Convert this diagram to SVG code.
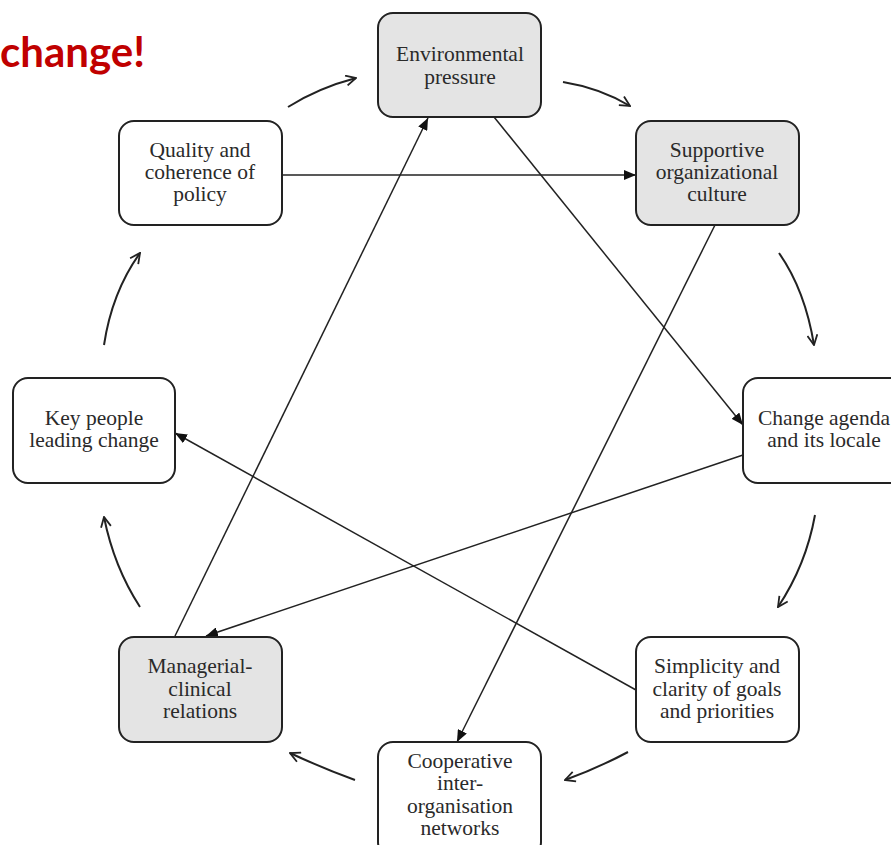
<svg xmlns="http://www.w3.org/2000/svg" width="891" height="845" viewBox="0 0 891 845">
<defs>
<marker id="open" viewBox="0 0 12 12" refX="11" refY="6" markerWidth="12" markerHeight="12" markerUnits="userSpaceOnUse" orient="auto">
<path d="M1,1 L11,6 L1,11" fill="none" stroke="#222" stroke-width="1.8"/>
</marker>
<marker id="solid" viewBox="0 0 12 10" refX="12" refY="5" markerWidth="12" markerHeight="10" markerUnits="userSpaceOnUse" orient="auto">
<path d="M0,0 L12,5 L0,10 Z" fill="#111"/>
</marker>
<style>
.box{stroke:#222;stroke-width:2;}
.w{fill:#fff;}
.g{fill:#e4e4e4;}
.t{font-family:"Liberation Serif","Times New Roman",serif;font-size:21.5px;fill:#2a2a2a;text-anchor:middle;}
.c{fill:none;stroke:#222;stroke-width:2;marker-end:url(#open);}
.s{fill:none;stroke:#222;stroke-width:1.5;marker-end:url(#solid);}
</style>
</defs>
<rect width="891" height="845" fill="#fff"/>
<text x="145" y="67" font-family="Lato, 'Open Sans', sans-serif" font-weight="bold" font-size="42" fill="#c00000" text-anchor="end">change!</text>

<g id="connectors">
<path class="c" d="M288,107 Q318,88 356,78"/>
<path class="c" d="M563,82 Q600,88 630,106"/>
<path class="c" d="M779,253 Q805,290 814,345"/>
<path class="c" d="M815,515 Q806,565 778,607"/>
<path class="c" d="M628,752 Q598,768 565,780"/>
<path class="c" d="M355,780 Q322,768 290,753"/>
<path class="c" d="M140,607 Q114,567 104,517"/>
<path class="c" d="M104,345 Q112,292 140,253"/>
<line class="s" x1="282" y1="175" x2="636" y2="175"/>
<line class="s" x1="175" y1="636" x2="428" y2="118"/>
<line class="s" x1="494" y1="117" x2="743" y2="425"/>
<line class="s" x1="715" y1="225" x2="457" y2="742"/>
<line class="s" x1="743" y1="455" x2="206" y2="636"/>
<line class="s" x1="636" y1="690" x2="175" y2="433"/>
</g>

<g id="environmental">
<rect class="box g" x="378" y="13" width="163" height="104" rx="15"/>
<text class="t" x="460" y="61">Environmental</text>
<text class="t" x="460" y="84">pressure</text>
</g>
<g id="supportive">
<rect class="box g" x="636" y="121" width="163" height="104" rx="15"/>
<text class="t" x="717" y="157">Supportive</text>
<text class="t" x="717" y="179">organizational</text>
<text class="t" x="717" y="201">culture</text>
</g>
<g id="quality">
<rect class="box w" x="119" y="121" width="163" height="104" rx="15"/>
<text class="t" x="200" y="157">Quality and</text>
<text class="t" x="200" y="179">coherence of</text>
<text class="t" x="200" y="201">policy</text>
</g>
<g id="keypeople">
<rect class="box w" x="13" y="378" width="162" height="105" rx="15"/>
<text class="t" x="94" y="425">Key people</text>
<text class="t" x="94" y="447">leading change</text>
</g>
<g id="agenda">
<rect class="box w" x="743" y="378" width="163" height="105" rx="15"/>
<text class="t" x="824" y="425">Change agenda</text>
<text class="t" x="824" y="447">and its locale</text>
</g>
<g id="managerial">
<rect class="box g" x="119" y="637" width="163" height="105" rx="15"/>
<text class="t" x="200" y="673">Managerial-</text>
<text class="t" x="200" y="696">clinical</text>
<text class="t" x="200" y="718">relations</text>
</g>
<g id="simplicity">
<rect class="box w" x="636" y="637" width="163" height="105" rx="15"/>
<text class="t" x="717" y="673">Simplicity and</text>
<text class="t" x="717" y="696">clarity of goals</text>
<text class="t" x="717" y="718">and priorities</text>
</g>
<g id="cooperative">
<rect class="box w" x="378" y="742" width="163" height="115" rx="15"/>
<text class="t" x="460" y="768">Cooperative</text>
<text class="t" x="460" y="790">inter-</text>
<text class="t" x="460" y="813">organisation</text>
<text class="t" x="460" y="835">networks</text>
</g>
</svg>
